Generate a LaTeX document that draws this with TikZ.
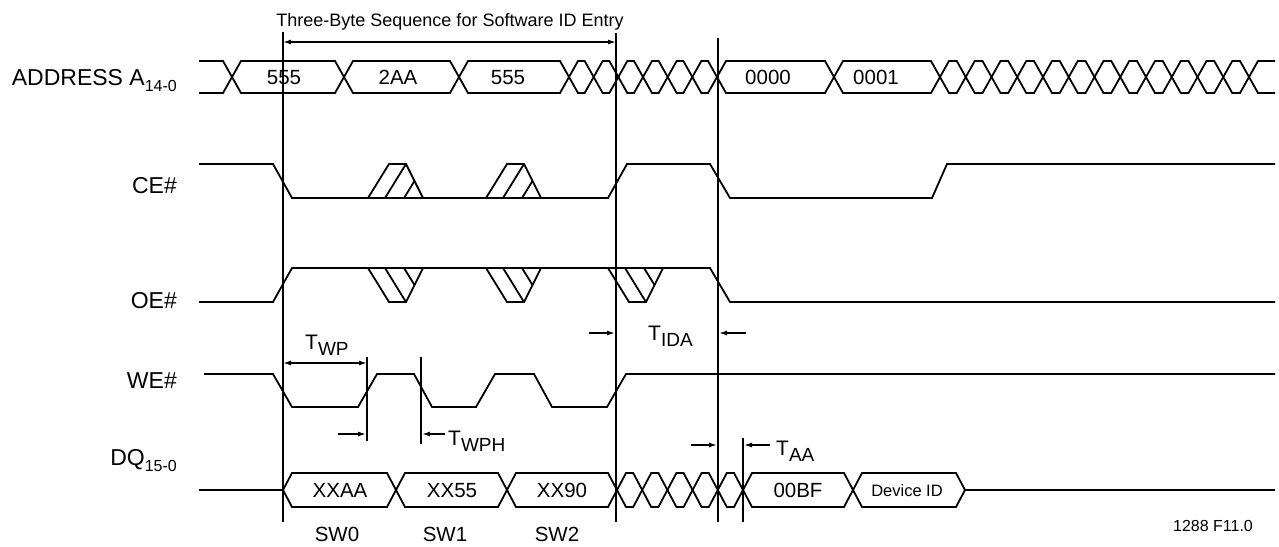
\documentclass[tikz,border=0pt]{standalone}
\usepackage{fontspec}
\setmainfont{Liberation Sans}
\usetikzlibrary{arrows.meta}

\newcommand{\lowsub}[2]{\raisebox{-6pt}{\fontsize{#1}{#1}\selectfont #2}}

% one bus cell between two crossings
\newcommand{\buscell}[5]{%
  \draw[wave] (#1,#4) -- ({#1+9},#3) -- ({#2-9},#3) -- (#2,#4) -- ({#2-9},#5) -- ({#1+9},#5) -- cycle;}
% run of invalid cells
\newcommand{\xcells}[6]{%
  \foreach \k in {1,...,#3} {%
    \pgfmathsetmacro{\xa}{#1+(\k-1)*(#2-#1)/#3}%
    \pgfmathsetmacro{\xb}{#1+\k*(#2-#1)/#3}%
    \buscell{\xa}{\xb}{#4}{#5}{#6}}}
% hatched glitches
\newcommand{\ceglitch}[1]{%
  \draw[wave] (#1,198) -- ({#1+21},164) -- ({#1+38},164) -- ({#1+55},198);
  \draw[wave] ({#1+17},198) -- ({#1+38},164);
  \draw[wave] ({#1+36},198) -- ({#1+46.5},181);}
\newcommand{\oeglitch}[1]{%
  \draw[wave] (#1,268) -- ({#1+21},302) -- ({#1+38},302) -- ({#1+55},268);
  \draw[wave] ({#1+17},268) -- ({#1+38},302);
  \draw[wave] ({#1+36},268) -- ({#1+46.5},285);}

\tikzset{
  wave/.style={line width=1.8pt, line join=miter},
  marker/.style={line width=1.7pt},
  dim/.style={line width=1.4pt},
  lbl/.style={font=\fontsize{23}{26}\selectfont, anchor=base east, inner sep=0pt},
  bustext/.style={font=\fontsize{20.5}{24}\selectfont, anchor=base, inner sep=0pt},
  timing/.style={font=\fontsize{21}{24}\selectfont, anchor=base west, inner sep=0pt},
}

\begin{document}
\begin{tikzpicture}[x=1pt, y=-1pt, >={Latex[length=8pt,width=5pt]}]
  \useasboundingbox (0,0) rectangle (1279,546);

  % Title and sequence span
  \node[font=\fontsize{18}{22}\selectfont, anchor=base, inner sep=0pt] (seqtitle) at (450,27) {Three-Byte Sequence for Software ID Entry};
  \coordinate (seqL) at (283,42);
  \coordinate (seqR) at (616,42);
  \draw[dim,<->] (seqL) -- (seqR);

  % Signal names
  \node[lbl] (addrname) at (177,85) {ADDRESS A\lowsub{16}{14-0}};
  \node[lbl] (cename) at (177,193) {CE\#};
  \node[lbl] (oename) at (177,308) {OE\#};
  \node[lbl] (wename) at (177,388) {WE\#};
  \node[lbl] (dqname) at (177,465) {DQ\lowsub{16}{15-0}};

  % Reference lines
  \draw[marker] (283,32) -- (283,522);
  \draw[marker] (616,33) -- (616,522);
  \draw[marker] (718,38) -- (718,522);
  \draw[marker] (743,438) -- (743,522);
  \draw[marker] (367,357) -- (367,441);
  \draw[marker] (421,357) -- (421,444);

  % Address bus
  \draw[wave] (199,61) -- (223,61) -- (232,77) -- (223,93) -- (199,93);
  \buscell{232}{344}{61}{77}{93}
  \buscell{344}{459}{61}{77}{93}
  \buscell{459}{569}{61}{77}{93}
  \xcells{569}{717}{6}{61}{77}{93}
  \buscell{717}{834}{61}{77}{93}
  \buscell{834}{940}{61}{77}{93}
  \xcells{940}{1249}{12}{61}{77}{93}
  \draw[wave] (1275,61) -- (1258,61) -- (1249,77) -- (1258,93) -- (1275,93);
  \node[bustext] (adr1) at (284,84) {555};
  \node[bustext] (adr2) at (398,84) {2AA};
  \node[bustext] (adr3) at (508,84) {555};
  \node[bustext] (adr4) at (768,84) {0000};
  \node[bustext] (adr5) at (876,84) {0001};

  % CE#
  \draw[wave] (199,164) -- (273,164) -- (292,198) -- (608,198) -- (627,164) -- (710,164) -- (730,198) -- (932,198) -- (947,164) -- (1275,164);
  \ceglitch{368}
  \ceglitch{486}

  % OE#
  \draw[wave] (199,302) -- (273,302) -- (292,268) -- (710,268) -- (730,302) -- (1275,302);
  \oeglitch{368}
  \oeglitch{486}
  \oeglitch{608}

  % WE#
  \draw[wave] (204,374) -- (273,374) -- (292,407) -- (358,407) -- (377,374) -- (414,374) -- (432,407) -- (476,407) -- (495,374) -- (534,374) -- (552,407) -- (607,407) -- (626,374) -- (1275,374);

  % DQ bus
  \draw[wave] (199,490) -- (283,490);
  \buscell{283}{396}{473}{490}{507}
  \buscell{396}{507}{473}{490}{507}
  \buscell{507}{617}{473}{490}{507}
  \xcells{617}{743}{5}{473}{490}{507}
  \buscell{743}{853}{473}{490}{507}
  \buscell{853}{965}{473}{490}{507}
  \draw[wave] (965,490) -- (1275,490);
  \node[bustext] (dq1) at (340,497) {XXAA};
  \node[bustext] (dq2) at (452,497) {XX55};
  \node[bustext] (dq3) at (562,497) {XX90};
  \node[bustext] (dq4) at (798,497) {00BF};
  \node[bustext, font=\fontsize{16.5}{20}\selectfont] (dq5) at (907,496) {Device ID};

  % Timing marks
  \coordinate (wpL) at (283,363);
  \coordinate (wpR) at (367,363);
  \draw[dim,<->] (wpL) -- (wpR);
  \node[timing] (twp) at (305,349) {T\lowsub{19}{WP}};

  \coordinate (wphA) at (338,434);
  \coordinate (wphB) at (366,434);
  \coordinate (wphC) at (445,434);
  \coordinate (wphD) at (422,434);
  \draw[dim,->] (wphA) -- (wphB);
  \draw[dim,->] (wphC) -- (wphD);
  \node[timing] (twph) at (448,445) {T\lowsub{19}{WPH}};

  \coordinate (idaA) at (589,333);
  \coordinate (idaB) at (615,333);
  \coordinate (idaC) at (746,333);
  \coordinate (idaD) at (719,333);
  \draw[dim,->] (idaA) -- (idaB);
  \draw[dim,->] (idaC) -- (idaD);
  \node[timing] (tida) at (648,340) {T\lowsub{19}{IDA}};

  \coordinate (aaA) at (691,445);
  \coordinate (aaB) at (717,445);
  \coordinate (aaC) at (770,445);
  \coordinate (aaD) at (744,445);
  \draw[dim,->] (aaA) -- (aaB);
  \draw[dim,->] (aaC) -- (aaD);
  \node[timing] (taa) at (776,455) {T\lowsub{19}{AA}};

  % Cycle names
  \node[bustext] (sw0) at (337,541) {SW0};
  \node[bustext] (sw1) at (445,541) {SW1};
  \node[bustext] (sw2) at (557,541) {SW2};

  \node[bustext, font=\fontsize{16}{20}\selectfont] (figno) at (1213,531) {1288 F11.0};
\end{tikzpicture}
\end{document}
